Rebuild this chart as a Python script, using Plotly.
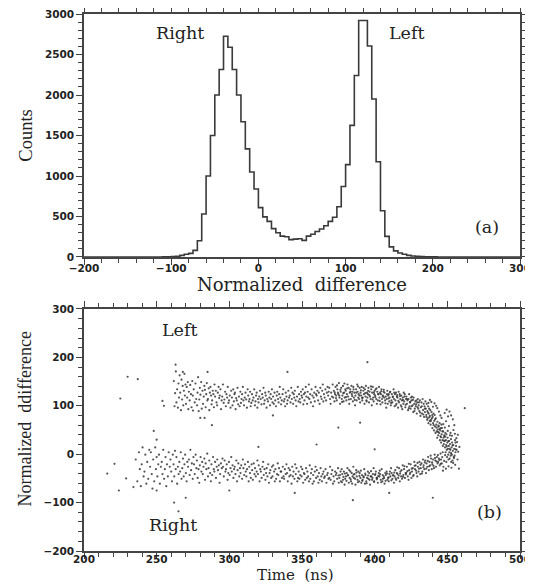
import plotly.graph_objects as go
from plotly.subplots import make_subplots

# ---------------- Panel (a): histogram of normalized difference ----------------
bin_width = 5
bin_lo = list(range(-200, 300, bin_width))
counts = [0] * 18 + [
    1, 2, 5, 10, 20, 33, 45, 82, 200, 530,
    1000, 1500, 2000, 2315, 2725, 2590, 2315, 2000, 1670, 1335,
    1050, 840, 610, 495, 440, 350, 300, 258, 250, 215,
    220, 225, 205, 258, 280, 315, 345, 385, 440, 490,
    620, 870, 1140, 1625, 2240, 2920, 2920, 2605, 1950, 1175,
    570, 255, 125, 76, 50, 33, 20, 12, 8, 5,
    3, 2, 1,
] + [0] * 19

# ---------------- Panel (b): scatter, time (ns) vs normalized difference ----------------
upper_band = [
    (261.8,151),(262.3,99),(262.7,126),(263.2,171),(263.6,107),(264.1,134),(264.6,96),(265.0,146),
    (265.4,117),(265.8,163),(266.2,127),(266.7,91),(267.1,154),(267.5,113),(267.9,141),(268.3,101),
    (268.7,131),(269.1,166),(269.4,121),(269.8,144),(270.2,104),(270.7,139),(271.0,117),(271.4,149),
    (271.8,93),(272.2,129),(272.7,111),(273.1,143),(273.6,124),(274.0,97),(274.5,151),(274.9,121),
    (275.5,134),(276.2,107),(276.7,146),(277.2,114),(277.8,101),(278.1,127),(278.5,159),(278.9,89),
    (279.3,113),(279.7,137),(280.1,123),(280.6,149),(281.0,94),(281.5,131),(281.9,104),(282.4,119),
    (282.8,141),(283.2,133),(283.7,97),(284.1,124),(284.5,147),(284.9,111),(285.3,114),(285.8,136),
    (286.2,91),(286.6,127),(287.0,139),(287.4,121),(287.8,103),(288.2,111),(288.6,131),(289.0,124),
    (289.4,97),(289.8,144),(290.2,119),(290.7,131),(291.2,107),(291.6,101),(292.1,127),(292.6,139),
    (293.0,116),(293.4,121),(293.9,134),(294.3,93),(294.7,111),(295.1,119),(295.6,144),(296.1,106),
    (296.6,113),(297.1,129),(297.6,99),(298.0,124),(298.5,117),(298.9,139),(299.4,106),(299.8,111),
    (300.3,121),(300.8,96),(301.3,131),(301.8,117),(302.2,101),(302.7,134),(303.1,109),(303.5,124),
    (303.9,127),(304.3,93),(304.7,116),(305.1,111),(305.6,137),(306.1,103),(306.6,119),(307.1,99),
    (307.6,129),(308.0,106),(308.4,114),(308.8,124),(309.3,139),(309.7,111),(310.1,101),(310.6,117),
    (311.1,127),(311.6,113),(312.1,96),(312.6,134),(313.0,121),(313.5,109),(313.9,114),(314.3,129),
    (314.7,99),(315.1,106),(315.6,124),(316.1,111),(316.6,117),(317.1,134),(317.6,101),(318.0,109),
    (318.4,121),(318.8,127),(319.3,96),(319.7,114),(320.1,107),(320.6,119),(321.1,131),(321.6,114),
    (322.1,103),(322.6,124),(323.0,117),(323.5,137),(323.9,104),(324.3,111),(324.7,127),(325.1,121),
    (325.6,96),(326.1,114),(326.6,109),(327.1,129),(327.6,117),(328.0,101),(328.4,124),(328.8,114),
    (329.3,134),(329.7,107),(330.1,119),(330.6,104),(331.1,127),(331.6,111),(332.1,99),(332.6,121),
    (333.0,129),(333.5,114),(333.9,107),(334.3,124),(334.7,139),(335.1,117),(335.6,103),(336.1,111),
    (336.6,124),(337.1,134),(337.6,109),(338.0,114),(338.4,99),(338.8,127),(339.3,119),(339.7,104),
    (340.1,111),(340.6,131),(341.1,117),(341.6,121),(342.1,107),(342.6,137),(343.0,114),(343.5,127),
    (343.9,104),(344.3,124),(344.7,117),(345.1,131),(345.6,111),(346.1,99),(346.6,119),(347.1,139),
    (347.6,109),(348.0,124),(348.4,114),(348.8,107),(349.3,129),(349.7,121),(350.1,117),(350.5,134),
    (350.9,103),(351.3,124),(351.7,111),(352.1,127),(352.6,139),(353.0,119),(353.5,104),(353.9,129),
    (354.3,117),(354.7,144),(355.1,114),(355.6,124),(356.1,107),(356.6,134),(357.1,121),(357.6,99),
    (358.0,117),(358.4,127),(358.8,109),(359.3,139),(359.7,124),(360.1,121),(360.6,131),(361.1,111),
    (361.6,127),(362.1,104),(362.6,137),(363.0,119),(363.5,114),(363.9,131),(364.3,144),(364.7,109),
    (365.1,124),(365.6,117),(366.1,134),(366.6,111),(367.1,127),(367.6,139),(368.0,121),(368.4,129),
    (368.8,137),(369.3,114),(369.7,104),(370.1,127),(370.6,119),(371.1,144),(371.5,117),(371.9,131),
    (372.3,109),(372.7,124),(373.1,139),(373.5,121),(373.9,111),(374.3,134),(374.7,127),(375.0,124),
    (375.4,147),(375.8,117),(376.2,104),(376.6,129),(377.0,137),(377.4,114),(377.8,121),(378.2,141),
    (378.6,109),(379.0,127),(379.4,117),(379.8,134),(380.1,131),(380.5,111),(380.9,124),(381.3,144),
    (381.7,119),(382.1,137),(382.5,104),(382.9,127),(383.2,134),(383.6,114),(384.0,141),(384.3,124),
    (384.7,129),(385.0,109),(385.3,139),(385.7,117),(386.1,127),(386.5,101),(386.8,121),(387.2,134),
    (387.6,111),(388.0,144),(388.3,129),(388.7,117),(389.0,124),(389.3,114),(389.7,137),(390.0,107),
    (390.3,127),(390.7,121),(391.1,139),(391.5,111),(391.8,117),(392.2,131),(392.6,124),(393.0,104),
    (393.3,134),(393.7,119),(394.0,141),(394.3,111),(394.7,127),(395.0,117),(395.3,124),(395.7,137),
    (396.1,107),(396.5,129),(396.8,119),(397.2,114),(397.6,134),(398.0,101),(398.3,127),(398.7,139),
    (399.0,117),(399.3,109),(399.7,124),(400.0,131),(400.3,121),(400.7,134),(401.1,114),(401.5,104),
    (401.8,129),(402.2,111),(402.6,124),(403.0,139),(403.3,117),(403.7,127),(404.0,103),(404.3,124),
    (404.7,134),(405.0,114),(405.3,107),(405.7,121),(406.1,129),(406.5,117),(406.8,127),(407.2,111),
    (407.6,119),(408.0,96),(408.3,114),(408.7,131),(409.0,104),(409.3,121),(409.7,124),(410.0,109),
    (410.3,117),(410.7,129),(411.1,101),(411.5,111),(411.8,124),(412.2,107),(412.6,119),(413.0,134),
    (413.3,114),(413.7,99),(414.0,124),(414.3,111),(414.7,127),(415.0,104),(415.3,119),(415.7,117),
    (416.1,96),(416.5,129),(416.8,107),(417.2,124),(417.6,114),(418.0,101),(418.3,121),(418.7,111),
    (419.0,93),(419.3,117),(419.7,104),(420.0,127),(420.3,109),(420.7,124),(421.1,97),(421.5,114),
    (421.8,119),(422.2,104),(422.6,111),(423.0,91),(423.3,114),(423.7,124),(424.0,99),(424.3,107),
    (424.7,94),(425.0,117),(425.3,111),(425.7,119),(426.1,101),(426.5,87),(426.8,117),(427.2,104),
    (427.6,94),(428.0,109),(428.3,99),(428.7,111),(429.0,84),(429.3,107),(429.7,114),(430.0,94),
    (430.3,101),(430.7,89),(431.1,111),(431.5,79),(431.8,97),(432.2,107),(432.6,84),(433.0,114),
    (433.3,91),(433.7,104),(434.0,77),(434.3,99),(434.6,87),(434.9,109),(435.2,94),(435.5,81),
    (435.8,104),(436.1,71),
]
upper_dense = [
    (372.5,128),(373.4,116),(374.1,142),(375.6,121),(376.4,133),(377.6,108),(378.4,126),(379.2,146),
    (380.3,118),(381.1,136),(382.3,113),(383.4,129),(384.5,120),(385.5,134),(386.3,112),(387.4,127),
    (388.5,140),(389.5,121),(390.5,132),(391.3,116),(392.4,137),(393.5,126),(394.5,109),(395.5,131),
    (396.3,122),(397.4,140),(398.5,113),(399.5,128),(400.5,118),(401.3,136),(402.4,124),(403.5,110),
    (404.5,130),(405.5,119),(406.3,133),(407.4,105),(408.5,124),(409.5,115),(410.5,128),(411.3,106),
    (412.4,118),(413.5,127),(414.5,101),(415.5,122),(416.3,110),(417.4,120),(418.5,98),(419.5,112),
    (420.5,119),(421.3,102),(422.4,114),(423.5,95),(424.5,108),(425.5,99),(426.3,112),(427.4,89),
    (428.5,103),(429.5,97),(430.5,107),(431.3,86),(432.4,99),(433.5,82),(434.5,94),(435.6,77),
    (436.6,86),(437.6,76),(438.6,68),(439.6,81),(440.6,60),(441.6,72),(442.6,55),(443.6,46),
    (444.6,52),(445.6,35),(446.6,47),(447.6,28),(448.6,36),(449.6,16),(450.6,27),(451.6,11),
    (452.6,2),(453.6,18),(454.6,-8),(455.6,24),
    (437.0,106),(438.0,112),(439.0,108),(440.1,98),(441.2,105),(442.3,100),(443.1,95),(444.2,88),
    (445.2,80),(446.0,75),
]
turn_band = [
    (436.3,89),(436.5,74),(436.8,99),(437.0,64),(437.2,84),(437.5,94),(437.8,69),(438.0,79),
    (438.3,91),(438.5,61),(438.8,71),(439.1,87),(439.4,74),(439.7,54),(439.9,77),(440.2,64),
    (440.5,84),(440.8,49),(441.0,69),(441.3,81),(441.6,57),(441.9,44),(442.1,74),(442.4,61),
    (442.7,47),(443.0,34),(443.2,67),(443.4,51),(443.7,39),(443.9,59),(444.1,57),(444.4,44),
    (444.7,64),(444.9,29),(445.1,49),(445.3,37),(445.5,54),(445.7,24),(445.9,61),(446.1,41),
    (446.3,54),(446.6,29),(446.9,17),(447.1,47),(447.3,34),(447.6,21),(447.9,39),(448.0,37),
    (448.2,27),(448.4,14),(448.6,44),(448.8,4),(449.0,29),(449.2,19),(449.4,41),(449.6,9),
    (449.8,-6),(450.0,24),(450.2,34),(450.4,11),(450.6,-1),(450.8,-11),(451.0,17),(451.2,27),
    (451.4,4),(451.6,-9),(451.8,39),(451.9,21),(452.1,9),(452.3,-3),(452.5,31),(452.7,-16),
    (452.9,14),(453.1,-1),(453.3,24),(453.6,-13),(453.8,7),(454.1,19),(454.4,-6),(454.7,11),
    (455.0,-3),(455.3,29),(455.6,4),(456.0,17),(456.4,9),(457.0,-11),
    (447.2,62),(448.3,55),(449.1,68),(450.3,48),(451.1,58),(452.2,44),(453.2,38),(454.2,50),
    (455.2,42),(456.2,33),(454.8,60),(453.8,72),(452.6,80),(451.5,88),(450.5,78),(449.5,92),
    (448.2,85),(455.7,10),(456.7,25),(457.5,5),(454.0,-18),(455.4,-22),(452.8,-28),(450.8,-25),
    (449.0,-30),(447.0,-34),(457.2,40),(458.3,15),
]
lower_band = [
    (235.6,-11),(236.7,-56),(237.8,4),(238.4,-31),(239.1,-66),(239.7,-21),(240.3,14),(241.0,-46),
    (241.6,-36),(242.2,-1),(242.9,-61),(243.5,-16),(244.2,-51),(244.9,9),(245.5,-26),(246.0,4),
    (246.6,-41),(247.1,-71),(247.6,-11),(248.3,-56),(249.0,14),(249.5,-31),(250.0,-6),(250.5,-46),
    (251.1,-21),(251.6,-1),(252.2,-61),(252.9,-26),(253.5,-16),(254.0,-41),(254.5,9),(255.1,-51),
    (255.6,-31),(256.1,-6),(256.6,-66),(257.1,-21),(257.7,-46),(258.3,4),(259.0,-26),(259.5,-11),
    (260.0,-36),(260.5,-56),(261.1,-1),(261.6,-21),(262.1,-46),(262.6,7),(263.1,-31),(263.6,-6),
    (264.1,-61),(264.6,-26),(265.1,-41),(265.6,-16),(266.1,-36),(266.6,4),(267.1,-51),(267.6,-29),
    (268.1,-9),(268.6,-46),(269.1,-21),(269.6,-1),(270.1,-39),(270.6,-56),(271.1,-16),(271.6,-26),
    (272.2,-11),(272.7,-43),(273.2,9),(273.7,-33),(274.2,-19),(274.8,-51),(275.3,-6),(275.7,-21),
    (276.2,-41),(276.8,-1),(277.3,-29),(277.7,-13),(278.2,-49),(278.8,-31),(279.3,-59),(279.7,-23),
    (280.2,-6),(280.8,-36),(281.3,-16),(281.7,-41),(282.2,-26),(282.8,-9),(283.3,-53),(283.7,-19),
    (284.2,-31),(284.8,1),(285.3,-46),(285.7,-29),(286.2,-13),(286.8,-39),(287.3,-56),(287.7,-21),
    (288.2,-43),(288.8,-6),(289.3,-31),(289.7,-36),(290.2,-16),(290.8,-49),(291.3,-26),(291.7,-11),
    (292.2,-33),(292.8,-23),(293.3,-59),(293.7,-41),(294.2,-19),(294.8,-29),(295.3,-9),(295.7,-26),
    (296.2,-46),(296.8,-13),(297.3,-36),(297.7,-31),(298.2,-21),(298.8,-53),(299.3,-39),(299.7,-16),
    (300.2,-43),(300.8,-29),(301.3,-6),(301.7,-36),(302.2,-23),(302.8,-49),(303.3,-31),(303.7,-26),
    (304.2,-41),(304.8,-13),(305.3,-56),(305.7,-33),(306.2,-19),(306.8,-46),(307.3,-29),(307.7,-39),
    (308.2,-23),(308.8,-51),(309.3,-11),(309.7,-29),(310.2,-43),(310.8,-21),(311.3,-36),(311.7,-46),
    (312.2,-31),(312.8,-16),(313.3,-56),(313.7,-26),(314.2,-39),(314.8,-49),(315.3,-21),(315.7,-33),
    (316.2,-53),(316.8,-19),(317.3,-41),(317.7,-29),(318.2,-46),(318.8,-36),(319.3,-13),(319.7,-41),
    (320.2,-23),(320.8,-56),(321.3,-31),(321.7,-36),(322.2,-49),(322.8,-26),(323.3,-16),(323.7,-43),
    (324.2,-31),(324.8,-53),(325.3,-39),(325.7,-29),(326.2,-46),(326.8,-21),(327.3,-59),(327.7,-39),
    (328.2,-33),(328.8,-49),(329.3,-26),(329.7,-46),(330.2,-23),(330.8,-36),(331.3,-56),(331.7,-31),
    (332.2,-51),(332.8,-41),(333.3,-19),(333.7,-43),(334.2,-29),(334.8,-56),(335.3,-36),(335.7,-36),
    (336.2,-49),(336.8,-26),(337.3,-46),(337.7,-51),(338.2,-31),(338.8,-41),(339.3,-21),(339.7,-39),
    (340.2,-56),(340.8,-29),(341.3,-46),(341.7,-33),(342.2,-43),(342.8,-61),(343.3,-26),(343.7,-46),
    (344.2,-36),(344.8,-51),(345.3,-21),(345.7,-41),(346.2,-29),(346.8,-56),(347.3,-49),(347.7,-36),
    (348.2,-51),(348.8,-43),(349.3,-26),(349.7,-46),(350.2,-31),(350.8,-59),(351.3,-39),(351.7,-41),
    (352.2,-53),(352.8,-29),(353.3,-49),(353.7,-36),(354.2,-46),(354.8,-56),(355.3,-23),(355.7,-51),
    (356.2,-39),(356.8,-31),(357.3,-61),(357.7,-43),(358.2,-56),(358.8,-36),(359.3,-26),(359.7,-49),
    (360.2,-33),(360.8,-46),(361.3,-59),(361.7,-39),(362.2,-53),(362.8,-29),(363.3,-46),(363.7,-56),
    (364.2,-41),(364.8,-36),(365.3,-49),(365.7,-46),(366.2,-31),(366.8,-59),(367.3,-43),(367.7,-39),
    (368.2,-51),(368.8,-49),(369.3,-26),(369.7,-53),(370.2,-41),(370.8,-33),(371.3,-61),(371.7,-46),
    (372.2,-56),(372.8,-36),(373.3,-43),(373.7,-39),(374.2,-51),(374.8,-29),(375.3,-59),(375.7,-49),
    (376.2,-43),(376.8,-56),(377.3,-31),(377.7,-41),(378.2,-53),(378.8,-36),(379.3,-63),(379.7,-51),
    (380.2,-46),(380.8,-39),(381.3,-29),(381.7,-43),(382.2,-59),(382.8,-49),(383.3,-36),(383.7,-56),
    (384.2,-39),(384.8,-46),(385.3,-26),(385.7,-49),(386.2,-41),(386.8,-63),(387.3,-33),(387.7,-46),
    (388.2,-53),(388.8,-36),(389.3,-56),(389.7,-39),(390.2,-49),(390.8,-59),(391.3,-43),(391.7,-53),
    (392.2,-46),(392.8,-31),(393.3,-61),(393.7,-43),(394.2,-56),(394.8,-49),(395.3,-36),(395.7,-51),
    (396.2,-39),(396.8,-63),(397.3,-46),(397.7,-46),(398.2,-53),(398.8,-41),(399.3,-29),(399.7,-56),
    (400.2,-43),(400.8,-36),(401.3,-49),(401.7,-49),(402.2,-59),(402.8,-39),(403.3,-46),(403.7,-41),
    (404.2,-53),(404.8,-31),(405.3,-56),(405.7,-51),(406.2,-46),(406.8,-61),(407.3,-39),(407.7,-43),
    (408.2,-36),(408.8,-53),(409.3,-49),(409.7,-56),(410.2,-41),(410.8,-46),(411.3,-29),(411.7,-39),
    (412.2,-51),(412.8,-43),(413.3,-59),(413.7,-46),(414.2,-33),(414.8,-53),(415.3,-39),(415.7,-41),
    (416.2,-49),(416.8,-29),(417.3,-56),(417.7,-36),(418.2,-46),(418.8,-51),(419.3,-23),(419.7,-43),
    (420.2,-31),(420.8,-49),(421.3,-39),(421.7,-39),(422.2,-26),(422.8,-46),(423.3,-53),(423.7,-33),
    (424.2,-41),(424.8,-21),(425.3,-49),(425.7,-36),(426.2,-29),(426.8,-43),(427.3,-16),(427.7,-31),
    (428.2,-23),(428.8,-39),(429.3,-46),(429.7,-26),(430.2,-36),(430.8,-16),(431.3,-41),(431.7,-29),
    (432.2,-19),(432.8,-36),(433.3,-11),(433.7,-23),(434.2,-31),(434.8,-13),(435.3,-39),(435.7,-19),
    (436.2,-26),(436.8,-6),(437.3,-33),(437.7,-16),(438.2,-23),(438.8,-9),(439.3,-31),(439.7,-21),
    (440.2,-11),(440.8,-29),(441.3,-1),(441.7,-13),(442.2,-26),(442.8,-6),(443.3,-19),(443.7,-16),
    (444.2,-9),(444.8,-23),(445.3,1),(445.7,-11),(446.2,-19),(446.8,4),(447.3,-26),
]
lower_dense = [
    (375.1,-44),(376.5,-36),(377.5,-58),(378.5,-47),(379.5,-40),(380.6,-55),(381.5,-44),(382.5,-33),
    (383.5,-52),(384.5,-61),(385.5,-42),(386.5,-51),(387.5,-38),(388.5,-58),(389.5,-45),(390.5,-34),
    (391.5,-55),(392.5,-48),(393.5,-40),(394.5,-60),(395.5,-44),(396.5,-53),(397.5,-35),(398.5,-49),
    (399.5,-57),(400.5,-41),(401.5,-52),(402.5,-45),(403.5,-34),(404.5,-58),(405.5,-43),(406.5,-49),
    (407.5,-55),(408.5,-40),(409.5,-48),(410.5,-36),(411.5,-54),(412.5,-44),(413.5,-38),(414.5,-50),
    (415.5,-27),(416.5,-44),(417.5,-40),(418.5,-33),(419.5,-47),(420.5,-25),(421.5,-42),(422.5,-35),
    (423.5,-20),(424.5,-38),(425.5,-30),(426.5,-45),(427.5,-24),(428.5,-34),(429.5,-18),(430.5,-30),
    (431.5,-22),(432.5,-40),(433.5,-27),(434.5,-17),(435.5,-30),(436.5,-14),(437.5,-25),(438.5,-3),
    (439.5,-17),(440.5,-24),(441.5,-8),(442.5,-15),(443.5,-2),(444.5,-12),(445.5,-20),(446.5,-6),
    (447.8,-14),(448.5,-2),(449.3,-16),
]
outliers = [
    (225,115),(230,160),(237,155),(216,-40),(221,-20),(224,-75),(229,-50),(234,-68),(248,48),(250,30),
    (255,100),(254,110),(263,185),(268,170),(285,170),(283,75),(288,60),(340,170),(395,190),(385,-95),
    (440,-90),(458,-30),(462,95),(265,-118),(262,-100),(270,-90),(330,80),(375,55),(390,65),(345,-80),
    (410,-80),(300,-75),(320,15),(360,20),(400,10),(280,75),(250,-75),(275,90),
]

scatter_pts = upper_band + upper_dense + turn_band + lower_band + lower_dense + outliers
time_ns = [p[0] for p in scatter_pts]
norm_diff = [p[1] for p in scatter_pts]

# step outline built from the bin edges
step_x = bin_lo + [bin_lo[-1] + bin_width]
step_y = counts + [counts[-1]]

fig = make_subplots(rows=2, cols=1, vertical_spacing=0.1)

fig.add_trace(go.Scatter(x=step_x, y=step_y, mode="lines", line_shape="hv",
                         line=dict(color="#3a3a3a", width=1.6), showlegend=False),
              row=1, col=1)
fig.add_trace(go.Scatter(x=time_ns, y=norm_diff, mode="markers",
                         marker=dict(size=2.2, color="#2a2a2a", opacity=0.8),
                         showlegend=False),
              row=2, col=1)

tick_font = dict(family="DejaVu Sans", size=10.5, color="#222", weight="bold")
axis_common = dict(showline=True, linewidth=1.5, linecolor="#444", mirror="allticks",
                   ticks="outside", ticklen=6, tickwidth=1.3, tickcolor="#444",
                   showgrid=False, zeroline=False, tickfont=tick_font, automargin=False,
                   ticklabeloverflow="allow")
minor_style = dict(ticklen=4, ticks="outside", tickcolor="#444", tickwidth=1.2)
serif_wide = dict(family="DejaVu Serif", size=18, color="#222")

fig.update_xaxes(range=[-200, 300], tick0=-200, dtick=100, ticklabelstandoff=-5,
                 minor=dict(dtick=20, **minor_style),
                 title=dict(text="Normalized  difference", font=serif_wide, standoff=2),
                 row=1, col=1, **axis_common)
fig.update_yaxes(range=[0, 3000], tick0=0, dtick=500,
                 minor=dict(dtick=100, **minor_style),
                 title=dict(text="Counts", font=dict(family="Liberation Serif", size=18.5, color="#222"), standoff=7),
                 row=1, col=1, **axis_common)
fig.update_xaxes(range=[200, 500], tick0=200, dtick=50, ticklabelstandoff=-8,
                 minor=dict(dtick=10, **minor_style),
                 row=2, col=1, **axis_common)
fig.update_yaxes(range=[-200, 300], tick0=-200, dtick=100,
                 minor=dict(dtick=20, **minor_style),
                 row=2, col=1, **axis_common)

# the page body adds an 8 px offset, so the margins are reduced by that amount
fig.update_layout(
    width=533, height=585,
    margin=dict(l=76, r=21, t=6, b=42),
    plot_bgcolor="white", paper_bgcolor="white",
)
fig.update_layout(
    yaxis=dict(domain=[0.5475, 1.0]),
    yaxis2=dict(domain=[0.0, 0.4507]),
)

# axis titles of panel (b), placed as paper-anchored labels
fig.add_annotation(x=0.484, y=-0.0633, xref="paper", yref="paper", text="Time  (ns)",
                   showarrow=False, font=dict(family="DejaVu Serif", size=15, color="#222"),
                   xanchor="center", yanchor="bottom", borderpad=0)
fig.add_annotation(x=-0.136, y=0.246, xref="paper", yref="paper", text="Normalized  ddifference",
                   textangle=-90, showarrow=False,
                   font=dict(family="Liberation Serif", size=18, color="#222"),
                   xanchor="center", yanchor="middle")

ann_font = dict(family="DejaVu Serif", size=17.5, color="#222")
annots = [
    ("x", "y", -90, 2765, "Right"),
    ("x", "y", 170, 2765, "Left"),
    ("x", "y", 262, 370, "(a)"),
    ("x2", "y2", 266, 256, "Left"),
    ("x2", "y2", 261, -147, "Right"),
    ("x2", "y2", 479, -120, "(b)"),
]
for xr, yr, ax, ay, txt in annots:
    fig.add_annotation(x=ax, y=ay, xref=xr, yref=yr, text=txt, showarrow=False, font=ann_font)

fig.write_html("out.html")
